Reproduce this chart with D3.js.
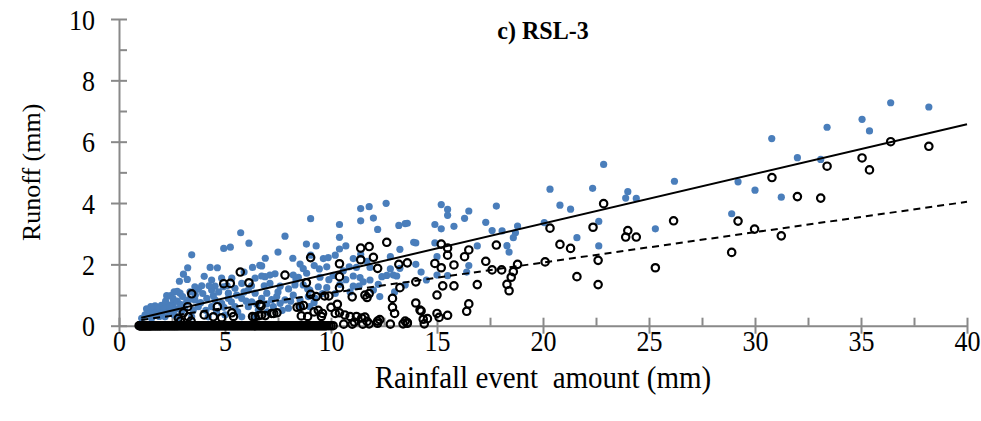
<!DOCTYPE html>
<html>
<head>
<meta charset="utf-8">
<script src="https://cdn.jsdelivr.net/npm/d3@7"></script>
<style>
  html, body { margin: 0; padding: 0; background: #fff; }
  svg { display: block; font-family: "Liberation Serif", "Times New Roman", serif; }
</style>
</head>
<body>
<div id="chart"></div>
<script>
// runoff plot RSL-3 : blue = filled markers, black = open circles
var chartTitle = "c) RSL-3";
var xTicks = [0, 5, 10, 15, 20, 25, 30, 35, 40];
var yTicks = [0, 2, 4, 6, 8, 10];

// filled (blue) events: [rainfall, runoff]
var bluePoints = [
  [20.33,4.45],[20.8,3.93],[21.3,3.8],[22.34,4.48],[22.86,5.26],[22.63,3.4],[21.6,2.87],[22.63,2.6],
  [23.9,4.16],[24.0,4.37],[24.4,4.15],[25.3,3.16],[26.2,4.71],[28.9,3.65],[29.2,4.69],[30.0,4.42],
  [30.79,6.1],[31.24,4.19],[32.0,5.48],[33.1,5.42],[33.4,6.47],[35.05,6.73],[35.4,6.35],[36.4,7.27],
  [38.2,7.13],[20.06,3.36],
  [13.5,3.33],[15.2,3.95],[15.5,3.79],[15.5,3.6],[14.9,3.3],[15.2,3.16],[15.8,3.24],[16.5,3.74],
  [16.3,3.5],[17.3,3.37],[17.8,3.9],[17.6,3.1],[18.07,3.09],[18.8,3.25],[18.7,3.03],[18.6,2.87],
  [18.3,2.61],[18.4,2.4],[16.9,2.6],[14.9,2.7],[14.0,2.7],[15.0,2.25],[16.5,1.96],[16.4,1.75],
  [14.0,2.0],[14.25,1.75],[15.0,1.65],[15.5,1.63],[14.5,1.49],[13.5,1.33],[13.9,2.72],
  [12.6,3.99],[11.4,3.82],[11.8,3.88],[9.04,3.49],[11.4,3.42],[12.0,3.51],[10.4,3.3],[12.2,3.14],
  [13.2,3.27],[13.6,3.34],[7.83,2.92],[10.4,2.88],[8.84,2.66],[10.4,2.5],[13.25,2.49],[9.04,2.3],
  [9.64,2.19],[9.87,2.22],[11.05,2.19],[11.4,2.33],[8.54,2.01],[8.69,1.86],[9.21,1.96],[9.45,1.85],
  [9.8,1.92],[10.58,1.79],[10.86,1.92],[11.84,1.9],[12.8,1.85],[12.94,1.65],[13.25,1.87],[7.36,1.69],
  [7.12,1.65],[6.89,1.6],[6.73,1.95],[8.22,1.65],[8.85,1.71],[8.46,1.58],[9.48,1.58],[10.1,1.64],
  [11.05,1.62],[11.37,1.57],[11.52,1.43],[11.84,1.49],[12.23,1.35],[12.63,1.64],[13.1,1.62],[7.12,1.38],
  [7.6,1.29],[8.3,1.33],[8.69,1.33],[9.0,1.16],[9.4,1.27],[9.8,1.24],[10.42,1.35],[11.05,1.29],
  [11.32,1.29],[12.0,1.16],[12.3,0.95],[6.97,1.06],[7.44,0.95],[7.6,0.73],[7.83,0.84],[8.22,1.0],
  [8.54,0.84],[8.93,0.95],[9.25,0.89],[7.28,0.62],[7.99,0.57],[8.54,0.6],[9.0,0.62],[6.97,0.71],
  [5.74,3.03],[6.13,2.69],[4.94,2.52],[5.25,2.56],[3.43,2.31],[6.64,1.97],[3.24,1.89],[4.64,1.89],
  [3.04,1.68],[2.85,1.45],[3.22,1.51],[4.02,1.61],[2.25,0.98],[2.44,0.98],[2.88,1.06],[3.74,1.19],
  [4.37,1.49],[4.53,1.29],[4.84,1.55],[5.32,1.55],[5.79,1.38],[6.42,1.55],[6.73,1.62],[4.37,1.16],
  [4.92,1.27],[5.16,1.06],[5.47,1.22],[6.1,1.16],[6.42,1.06],[2.56,0.73],[3.19,0.78],[3.58,0.84],
  [4.14,0.89],[4.53,0.84],[5.16,0.89],[5.79,0.89],[6.26,0.78],[6.73,0.89],[1.38,0.46],[1.62,0.51],
  [1.82,0.51],[1.23,0.35],[2.01,0.4],[2.49,0.51],[2.96,0.46],[3.74,0.62],[4.37,0.62],[4.84,0.73],
  [5.47,0.62],[6.1,0.62],[6.57,0.51],[1.07,0.24],[1.54,0.24],[2.17,0.29],[2.8,0.24],[3.43,0.29],
  [4.21,0.29],[5.0,0.35],[5.79,0.29],[6.42,0.29],[3.58,1.27],[2.6,1.1],[2.75,1.12],[1.7,0.65],
  [2.0,0.66],[2.3,0.68],[1.5,0.62],[5.9,1.75],[6.3,1.9],[4.3,1.9],[3.9,1.3],[1.9,0.3],[2.6,0.35],
  [1.3,0.55],[1.45,0.4],[1.6,0.33],[1.75,0.42],[1.9,0.58],[2.1,0.55],[2.2,0.8],[2.35,0.45],
  [2.4,0.62],[2.55,0.88],[2.7,0.55],[2.75,0.8],[2.9,0.7],[3.0,0.95],[3.1,0.55],[3.3,0.85],
  [3.35,1.1],[3.5,0.5],[3.6,1.0],[3.85,0.75],[3.95,1.05],[4.1,0.5],[4.25,1.3],[4.45,0.98],
  [4.6,0.45],[4.7,1.1],[4.95,0.6],[5.1,1.3],[5.3,0.78],[5.55,1.0],[5.6,0.45],[5.9,1.1],
  [6.0,0.8],[6.25,1.3],[6.5,0.7],[6.85,1.3],[7.0,0.45],[7.2,0.85],[7.5,1.1],[7.7,0.5],
  [8.0,1.2],[8.1,0.8],[8.35,1.5],[8.9,1.2],[9.2,0.75],[9.6,1.05],[9.9,1.5],[10.2,1.05],
  [10.7,1.5],[10.9,1.1],[11.2,1.9],[11.7,2.1],[12.4,1.6],[12.8,2.25],[13.0,1.1],[10.2,2.3],
  [10.7,2.6],[9.3,2.6],[8.2,2.2],[7.5,2.4],[6.9,2.2]
];

// open (black) events with runoff above zero: [rainfall, runoff]
var openPoints = [
  [20.33,3.18],[20.8,2.65],[21.3,2.52],[22.86,3.98],[22.36,3.21],[22.6,2.13],[21.6,1.6],[22.6,1.34],
  [24.0,3.1],[23.9,2.89],[24.4,2.89],[25.3,1.89],[26.16,3.42],[28.9,2.39],[29.2,3.41],[29.98,3.15],
  [30.8,4.83],[31.24,2.93],[32.0,4.21],[33.1,4.16],[33.4,5.2],[35.05,5.47],[35.4,5.08],[36.4,6.0],
  [38.2,5.85],[20.1,2.08],
  [13.6,2.05],[15.2,2.66],[15.5,2.53],[15.5,2.3],[14.9,2.03],[15.2,1.89],[15.8,1.98],[16.5,2.47],
  [16.3,2.25],[17.3,2.1],[17.8,2.63],[17.6,1.82],[18.05,1.82],[18.8,2.0],[18.6,1.76],[18.5,1.58],
  [18.3,1.35],[18.4,1.14],[16.9,1.34],[14.0,1.43],[15.27,1.3],[15.8,1.3],[15.0,1.0],[16.5,0.71],
  [16.4,0.47],[14.0,0.74],[14.25,0.48],[15.0,0.4],[15.5,0.34],[14.35,0.21],[14.55,0.23],[15.1,0.27],
  [13.6,0.1],[14.2,0.51],
  [12.63,2.72],[11.4,2.53],[11.8,2.58],[9.04,2.22],[11.4,2.15],[12.0,2.23],[10.4,2.02],[12.2,1.87],
  [13.2,2.0],[7.83,1.65],[10.4,1.6],[8.84,1.4],[10.4,1.24],[13.25,1.24],[9.04,1.02],[11.0,0.94],
  [11.6,1.0],[11.8,1.05],[11.7,0.92],[9.7,0.97],[9.9,0.97],[9.3,0.95],[8.4,0.6],[8.55,0.62],
  [8.7,0.66],[12.9,0.6],[13.0,0.4],[12.9,0.89],[6.7,0.65],[7.3,0.4],[7.45,0.42],[9.2,0.45],
  [9.4,0.5],[9.6,0.4],[10.2,0.4],[10.4,0.42],[10.65,0.35],[10.9,0.3],[11.2,0.3],[11.45,0.25],
  [9.55,0.3],[11.6,0.28],[12.3,0.2],[8.9,0.3],[8.6,0.32],[10.0,0.6],[10.3,0.7],
  [5.72,1.75],[6.13,1.4],[4.94,1.37],[5.25,1.38],[3.43,1.04],[6.64,0.69],[3.24,0.62],[4.64,0.62],
  [3.04,0.42],[4.02,0.35],[2.8,0.24],[3.27,0.29],[4.45,0.29],[4.84,0.26],[6.42,0.29],[6.73,0.35],
  [2.9,0.15],[3.4,0.15],[5.4,0.3],[6.3,0.3],[6.6,0.33],[6.9,0.33],[5.32,0.42],[7.2,0.4],
  [10.6,0.05],[11.0,0.05],[11.5,0.05],[11.8,0.06],[12.2,0.08],[12.8,0.05],[13.4,0.06],[13.6,0.08],
  [14.4,0.06],[11.1,0.12],[11.7,0.14],[12.2,0.15],[13.5,0.15]
];

// open (black) events with zero runoff: rainfall only
var zeroRunoffRain = [
  0.95,0.98,1.0,1.02,1.05,1.08,1.1,1.12,1.15,1.18,1.2,1.23,1.25,1.28,1.3,1.33,1.35,1.38,1.4,1.43,
  1.45,1.48,1.5,1.53,1.56,1.6,1.63,1.66,1.7,1.73,1.76,1.8,1.83,1.86,1.9,1.93,1.96,2.0,2.04,2.08,
  2.12,2.16,2.2,2.24,2.28,2.32,2.36,2.4,2.44,2.48,2.52,2.56,2.6,2.64,2.68,2.72,2.76,2.8,2.85,2.9,
  2.95,3.0,3.05,3.1,3.15,3.2,3.25,3.3,3.35,3.4,3.45,3.5,3.55,3.6,3.65,3.7,3.75,3.8,3.85,3.9,
  3.95,4.0,4.05,4.1,4.15,4.2,4.25,4.3,4.35,4.4,4.45,4.5,4.55,4.6,4.65,4.7,4.75,4.8,4.85,4.9,
  4.95,5.0,5.05,5.1,5.15,5.2,5.25,5.3,5.35,5.4,5.45,5.5,5.55,5.6,5.65,5.7,5.75,5.8,5.85,5.9,
  5.95,6.0,6.05,6.1,6.15,6.2,6.25,6.3,6.35,6.4,6.45,6.5,6.55,6.6,6.65,6.7,6.75,6.8,6.85,6.9,
  6.95,7.0,7.05,7.1,7.15,7.2,7.25,7.3,7.35,7.4,7.45,7.5,7.55,7.6,7.65,7.7,7.75,7.8,7.85,7.9,
  7.95,8.0,8.05,8.1,8.15,8.2,8.25,8.3,8.35,8.4,8.45,8.5,8.55,8.6,8.65,8.7,8.75,8.8,8.85,8.9,
  8.95,9.0,9.05,9.1,9.15,9.2,9.25,9.3,9.35,9.4,9.45,9.5,9.55,9.6,9.65,9.7,9.75,9.8,9.9,10.0,
  10.1
];

// linear fits: [slope, intercept] drawn between trendRange
var trendRange = [1.05, 40];
var fitFilled = [0.162, 0.09];
var fitOpen = [0.099, 0.08];

var width = 981, height = 421;
var margin = {top: 19, right: 14, bottom: 95.3, left: 119};
var axisColor = "#898989";
var blue = "#4a7ebb";

var svg = d3.select("#chart").append("svg")
    .attr("width", width)
    .attr("height", height);

var x = d3.scaleLinear().domain([0, 40]).range([margin.left, width - margin.right]);
var y = d3.scaleLinear().domain([0, 10]).range([height - margin.bottom, margin.top]);

// minor ticks first (inside only)
svg.append("g")
    .attr("transform", "translate(" + margin.left + ",0)")
    .call(d3.axisLeft(y).tickValues([1, 3, 5, 7, 9]).tickSizeInner(-8).tickSizeOuter(0).tickFormat(""))
    .call(function(g) { g.select(".domain").remove(); });
svg.append("g")
    .attr("transform", "translate(0," + y(0) + ")")
    .call(d3.axisBottom(x).tickValues([2.5, 7.5, 12.5, 17.5, 22.5, 27.5, 32.5, 37.5]).tickSizeInner(-8).tickSizeOuter(0).tickFormat(""))
    .call(function(g) { g.select(".domain").remove(); });

// major axes
var yAxis = svg.append("g")
    .attr("transform", "translate(" + margin.left + ",0)")
    .call(d3.axisLeft(y).tickValues(yTicks).tickSizeOuter(0));
yAxis.selectAll(".tick line").attr("x1", 8).attr("x2", -8);
yAxis.selectAll(".tick text")
    .attr("x", 0).attr("dy", "0.33em")
    .attr("transform", "translate(-24,0) scale(1,1.17)");

var xAxis = svg.append("g")
    .attr("transform", "translate(0," + y(0) + ")")
    .call(d3.axisBottom(x).tickValues(xTicks).tickSizeOuter(0));
xAxis.selectAll(".tick line").attr("y1", -8).attr("y2", 8);
xAxis.selectAll(".tick text")
    .attr("y", 0).attr("dy", 0)
    .attr("transform", "translate(0,25.5) scale(1,1.17)");

svg.selectAll(".domain, .tick line").attr("stroke", axisColor).attr("stroke-width", 2);
svg.selectAll(".tick text")
    .attr("fill", "#000")
    .style("font-family", "Liberation Serif")
    .style("font-size", "26px");

// points
svg.append("g").selectAll("circle")
    .data(bluePoints)
  .enter().append("circle")
    .attr("cx", function(d) { return x(d[0]); })
    .attr("cy", function(d) { return y(d[1]); })
    .attr("r", 3.6)
    .attr("fill", blue);

var allOpen = openPoints.concat(zeroRunoffRain.map(function(r) { return [r, 0]; }));
svg.append("g").selectAll("circle")
    .data(allOpen)
  .enter().append("circle")
    .attr("cx", function(d) { return x(d[0]); })
    .attr("cy", function(d) { return y(d[1]); })
    .attr("r", 3.7)
    .attr("fill", "none")
    .attr("stroke", "#000")
    .attr("stroke-width", 2.2);

// trend lines
var fitLine = d3.line()
    .x(function(d) { return x(d[0]); })
    .y(function(d) { return y(d[1]); });
function fitPoints(fit) {
  return trendRange.map(function(r) { return [r, fit[0] * r + fit[1]]; });
}
svg.append("path")
    .attr("d", fitLine(fitPoints(fitFilled)))
    .attr("fill", "none")
    .attr("stroke", "#000")
    .attr("stroke-width", 2);
svg.append("path")
    .attr("d", fitLine(fitPoints(fitOpen)))
    .attr("fill", "none")
    .attr("stroke", "#000")
    .attr("stroke-width", 2)
    .attr("stroke-dasharray", "7,5");

// titles
svg.append("text")
    .attr("transform", "translate(543,39) scale(1,1.05)")
    .attr("text-anchor", "middle")
    .style("font-size", "24px")
    .style("font-weight", "bold")
    .text(chartTitle);

svg.append("text")
    .attr("transform", "translate(" + ((margin.left + width - margin.right) / 2) + ",388) scale(1,1.1)")
    .attr("text-anchor", "middle")
    .style("font-size", "29px")
    .style("white-space", "pre")
    .text("Rainfall event  amount (mm)");

svg.append("text")
    .attr("text-anchor", "middle")
    .attr("transform", "translate(40," + ((margin.top + height - margin.bottom) / 2) + ") rotate(-90)")
    .style("font-size", "26px")
    .text("Runoff (mm)");
</script>
</body>
</html>
